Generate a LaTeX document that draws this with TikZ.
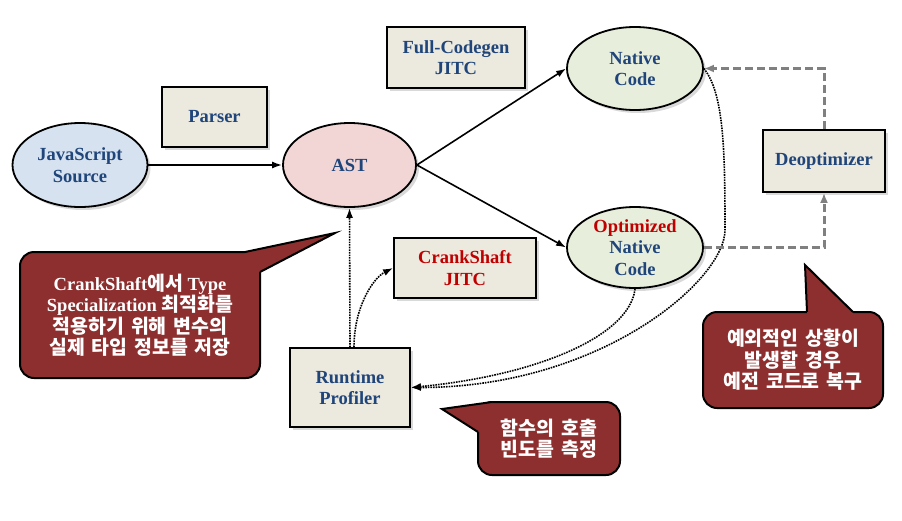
\documentclass[tikz,border=0pt]{standalone}
\usepackage{fontspec}
\setmainfont{Liberation Serif}
\newfontfamily\krfont{Noto Sans CJK KR}[WordSpace=1.5,Scale=1.05]
\newcommand\ko[1]{{\krfont #1}}
\usetikzlibrary{shapes.geometric,shadows,arrows.meta}
\definecolor{boxfill}{RGB}{236,233,222}
\definecolor{jsfill}{RGB}{214,226,240}
\definecolor{astfill}{RGB}{242,214,214}
\definecolor{nativefill}{RGB}{232,238,220}
\definecolor{callred}{RGB}{142,47,47}
\definecolor{textblue}{RGB}{31,69,122}
\definecolor{jitred}{RGB}{192,0,0}
\definecolor{backgray}{RGB}{128,128,128}
\begin{document}
\begin{tikzpicture}[x=1pt,y=-1pt,
    every node/.style={font=\fontsize{18.5}{21.5}\selectfont\bfseries, align=center, text=textblue, inner sep=0pt},
    codeell/.style={ellipse, draw, line width=1.8pt, drop shadow={shadow xshift=3pt, shadow yshift=-3pt, opacity=0.3}},
    jitbox/.style={rectangle, draw, line width=1.8pt, fill=boxfill, drop shadow={shadow xshift=3pt, shadow yshift=-3pt, opacity=0.3}},
    callbox/.style={rectangle, rounded corners=14pt, draw, line width=2pt, fill=callred, text=white},
    flow/.style={-{Latex[length=10pt,width=7pt]}, line width=1.6pt},
    hot/.style={flow, dash pattern=on 1.6pt off 1pt},
    backline/.style={-{Latex[length=10pt,width=8pt]}, line width=3pt, draw=backgray, dash pattern=on 8pt off 4pt}]
  \useasboundingbox (0,0) rectangle (902,520);
  \path
    (80,165) node[codeell, fill=jsfill, minimum width=135pt, minimum height=84pt] (js) {JavaScript\\Source}
    (214.5,117) node[jitbox, minimum width=105pt, minimum height=60pt] (parser) {Parser}
    (349.5,165) node[codeell, fill=astfill, minimum width=133pt, minimum height=84pt] (ast) {AST}
    (456,57.5) node[jitbox, minimum width=138pt, minimum height=61pt] (fullc) {Full-Codegen\\JITC}
    (635,68.5) node[codeell, fill=nativefill, minimum width=136pt, minimum height=83pt] (native) {Native\\Code}
    (635,247.5) node[codeell, fill=nativefill, minimum width=136pt, minimum height=81pt] (opt) {\textcolor{jitred}{Optimized}\\Native\\Code}
    (824,161) node[jitbox, minimum width=122pt, minimum height=62pt] (deopt) {Deoptimizer}
    (465,268) node[jitbox, text=jitred, minimum width=142pt, minimum height=60pt] (crank) {CrankShaft\\JITC}
    (350,387.5) node[jitbox, minimum width=120pt, minimum height=79pt] (profiler) {Runtime\\Profiler};
  \begin{scope}[flow]
    \draw (js) to (ast);
    \draw (ast.east) to (native.west);
    \draw (ast.east) to (opt.west);
  \end{scope}
  \begin{scope}[hot]
    \draw (profiler.north) to (ast.south);
    \draw ([xshift=4pt]profiler.north) .. controls +(0,-40) and +(-20,10) .. (crank.west);
    \draw (opt.south) .. controls (630,335) and (540,375) .. (profiler.east);
    \coordinate (bend) at (725,230);
    \draw (native.east) .. controls +(20,25) and +(0,-80) .. (bend)
      .. controls +(0,50) and +(190,0) .. (profiler.east);
  \end{scope}
  \begin{scope}[backline]
    \draw (opt.east) -| (deopt.south);
    \draw (deopt.north) |- (native.east);
  \end{scope}
  % callouts
  \node[callbox, minimum width=240pt, minimum height=126pt] (note1) at (140,315)
    {CrankShaft\ko{에서} Type\\Specialization \ko{최적화를}\\\ko{적용하기 위해 변수의}\\\ko{실제 타입 정보를 저장}};
  \coordinate (tip1) at (335,233);
  \fill[callred] (tip1) -- (245,252) -- (245,258) -- (254,272) -- (260,272) -- cycle;
  \draw[line width=2pt] (245,252) -- (tip1) -- (260,272);
  \node[callbox, minimum width=142pt, minimum height=73pt] (note2) at (549,438.5)
    {\ko{함수의 호출}\\\ko{빈도를 측정}};
  \coordinate (tip2) at (442,409);
  \fill[callred] (tip2) -- (492,402) -- (492,408) -- (484,432) -- (478,432) -- cycle;
  \draw[line width=2pt] (492,402) -- (tip2) -- (478,432);
  \node[callbox, minimum width=180pt, minimum height=96pt] (note3) at (793,360)
    {\ko{예외적인 상황이}\\\ko{발생할 경우}\\\ko{예전 코드로 복구}};
  \coordinate (tip3) at (805,265);
  \fill[callred] (tip3) -- (807,312) -- (807,318) -- (853,318) -- (853,312) -- cycle;
  \draw[line width=2pt] (807,312) -- (tip3) -- (853,312);
\end{tikzpicture}
\end{document}
